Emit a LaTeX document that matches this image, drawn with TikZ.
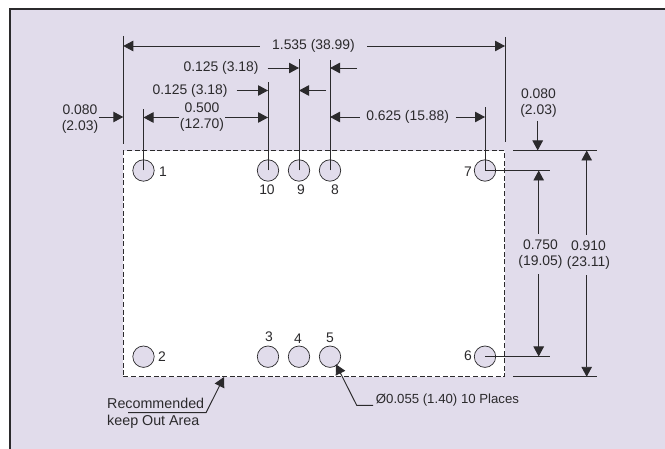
\documentclass[tikz,border=0pt]{standalone}
\usepackage{fontspec}
\usepackage{xcolor}
\usepackage{tikz}
\usetikzlibrary{arrows.meta}
\setmainfont{Liberation Sans}
\definecolor{panel}{HTML}{E1DCEB}
\definecolor{ink}{HTML}{2B2A2C}

\begin{document}
\begin{tikzpicture}[
    x=1pt, y=-1pt,
    every node/.style={text=ink, font=\fontsize{13.9}{16}\selectfont},
    pin/.style={circle, draw=ink, line width=0.7pt, fill=panel, minimum size=21.4pt, inner sep=0pt},
    dim/.style={align=center, inner sep=0pt},
    extline/.style={draw=ink, line width=0.95pt},
    heavyline/.style={draw=ink, line width=1.6pt},
    arrowline/.style={draw=ink, line width=0.95pt, -{Triangle[length=10pt, width=10.5pt]}}
]
\useasboundingbox (0,0) rectangle (665,449);
\fill [white] (0,0) rectangle (665,449);
\fill [panel] (9,9) rectangle (665,449);
\draw [ink, line width=2pt] (9.5,449) -- (9.5,9.5) -- (665,9.5);

% keep out area
\node (keepout) [draw=ink, dashed, dash pattern=on 5pt off 2.6pt, line width=1pt, fill=white,
    minimum width=381.5pt, minimum height=226pt, inner sep=0pt] at (314.2,264) {};

% pins
\node (pinA) [pin] at (143.5,170.5) {};
\node (pinJ) [pin] at (268,170.5) {};
\node (pinI) [pin] at (299,170.5) {};
\node (pinH) [pin] at (330,170.5) {};
\node (pinG) [pin] at (485,170.5) {};
\node (pinB) [pin] at (143.5,356.7) {};
\node (pinC) [pin] at (268,356.7) {};
\node (pinD) [pin] at (299,356.7) {};
\node (pinE) [pin] at (330,356.7) {};
\node (pinF) [pin] at (485,356.7) {};

\node (numA) at (163,172) {1};
\node (numJ) at (267,190) {10};
\node (numI) at (301,190) {9};
\node (numH) at (335,190) {8};
\node (numG) at (468,172) {7};
\node (numB) at (162,357) {2};
\node (numC) at (269,337) {3};
\node (numD) at (298,339) {4};
\node (numE) at (330,338) {5};
\node (numF) at (468,356) {6};

% extension lines
\coordinate (extLtop) at (123.3,36);
\coordinate (extLbot) at (123.3,144);
\coordinate (extRtop) at (505,37);
\coordinate (extRbot) at (505,142);
\coordinate (extA) at (143.5,109);
\coordinate (extJ) at (268,82);
\coordinate (extI) at (299,59);
\coordinate (extH) at (330,60);
\coordinate (extG) at (485,107);
\coordinate (extGr) at (550,170.5);
\coordinate (extFr) at (550,356.7);
\coordinate (extTl) at (513,150.5);
\coordinate (extTr) at (597,150.5);
\coordinate (extBl) at (513,376.8);
\coordinate (extBr) at (597,376.8);

\draw [heavyline] (extLtop) -- (extLbot);
\draw [extline] (extRtop) -- (extRbot);
\draw [extline] (pinA.center) -- (extA);
\draw [extline] (pinJ.center) -- (extJ);
\draw [extline] (pinI.center) -- (extI);
\draw [extline] (pinH.center) -- (extH);
\draw [extline] (pinG.center) -- (extG);
\draw [extline] (pinG.center) -- (extGr);
\draw [extline] (pinF.center) -- (extFr);
\draw [extline] (extTl) -- (extTr);
\draw [extline] (extBl) -- (extBr);

% horizontal dimensions
\node (width) [dim, inner xsep=12pt] at (313.5,46) {1.535 (38.99)};
\draw [arrowline] (width.west) -- (width.west -| extLtop);
\draw [arrowline] (width.east) -- (width.east -| extRtop);

\node (pitchA) [dim, inner xsep=9pt] at (221,68) {0.125 (3.18)};
\coordinate (pitchAr) at (357,68);
\draw [arrowline] (pitchA.east) -- (pitchA.east -| extI);
\draw [arrowline] (pitchAr) -- (pitchAr -| extH);

\node (pitchB) [dim, inner xsep=9pt] at (190,90.5) {0.125 (3.18)};
\coordinate (pitchBr) at (326,90.5);
\draw [arrowline] (pitchB.east) -- (pitchB.east -| extJ);
\draw [arrowline] (pitchBr) -- (pitchBr -| extI);

\node (spanA) [dim, inner xsep=1pt] at (202,117.5) {0.500\\(12.70)};
\draw [arrowline] (spanA.west) -- (spanA.west -| extA);
\draw [arrowline] (spanA.east) -- (spanA.east -| extJ);

\node (spanB) [dim, inner xsep=6.5pt] at (407.7,117) {0.625 (15.88)};
\draw [arrowline] (spanB.west) -- (spanB.west -| extH);
\draw [arrowline] (spanB.east) -- (spanB.east -| extG);

\node (edgeL) [dim] at (80,119.5) {0.080\\(2.03)};
\coordinate (edgeLs) at (99,117);
\coordinate (edgeLt) at (123.3,117);
\draw [arrowline] (edgeLs) -- (edgeLt);

% vertical dimensions
\node (edgeT) [dim, inner ysep=3pt] at (538.5,103.5) {0.080\\(2.03)};
\coordinate (edgeTtip) at (537.7,150.5);
\draw [arrowline] (edgeTtip |- edgeT.south) -- (edgeTtip);

\node (rowgap) [dim, inner ysep=6pt] at (540.5,254) {0.750\\(19.05)};
\coordinate (rowgapT) at (538.7,170.5);
\coordinate (rowgapB) at (538.7,356.5);
\draw [arrowline] (rowgapT |- rowgap.north) -- (rowgapT);
\draw [arrowline] (rowgapB |- rowgap.south) -- (rowgapB);

\node (depth) [dim, inner ysep=6pt] at (588.5,255) {0.910\\(23.11)};
\coordinate (depthT) at (586.7,150.5);
\coordinate (depthB) at (586.7,376.8);
\draw [arrowline] (depthT |- depth.north) -- (depthT);
\draw [arrowline] (depthB |- depth.south) -- (depthB);

% callouts
\node (keepnote) [dim, align=left, anchor=west, font=\fontsize{14.3}{17.5}\selectfont] at (107,413.5) {Recommended\\keep Out Area};
\coordinate (keepA) at (128,412.7);
\coordinate (keepB) at (206,412.7);
\coordinate (keepC) at (224,377);
\draw [arrowline] (keepA) -- (keepB) -- (keepC);

\node (holes) [dim, anchor=west, font=\fontsize{13.2}{16}\selectfont] at (375.7,399.7) {Ø0.055 (1.40) 10 Places};
\coordinate (holesA) at (373,405.3);
\coordinate (holesB) at (356.7,405.3);
\coordinate (holesC) at (336,364.3);
\draw [arrowline] (holesA) -- (holesB) -- (holesC);
\end{tikzpicture}
\end{document}
